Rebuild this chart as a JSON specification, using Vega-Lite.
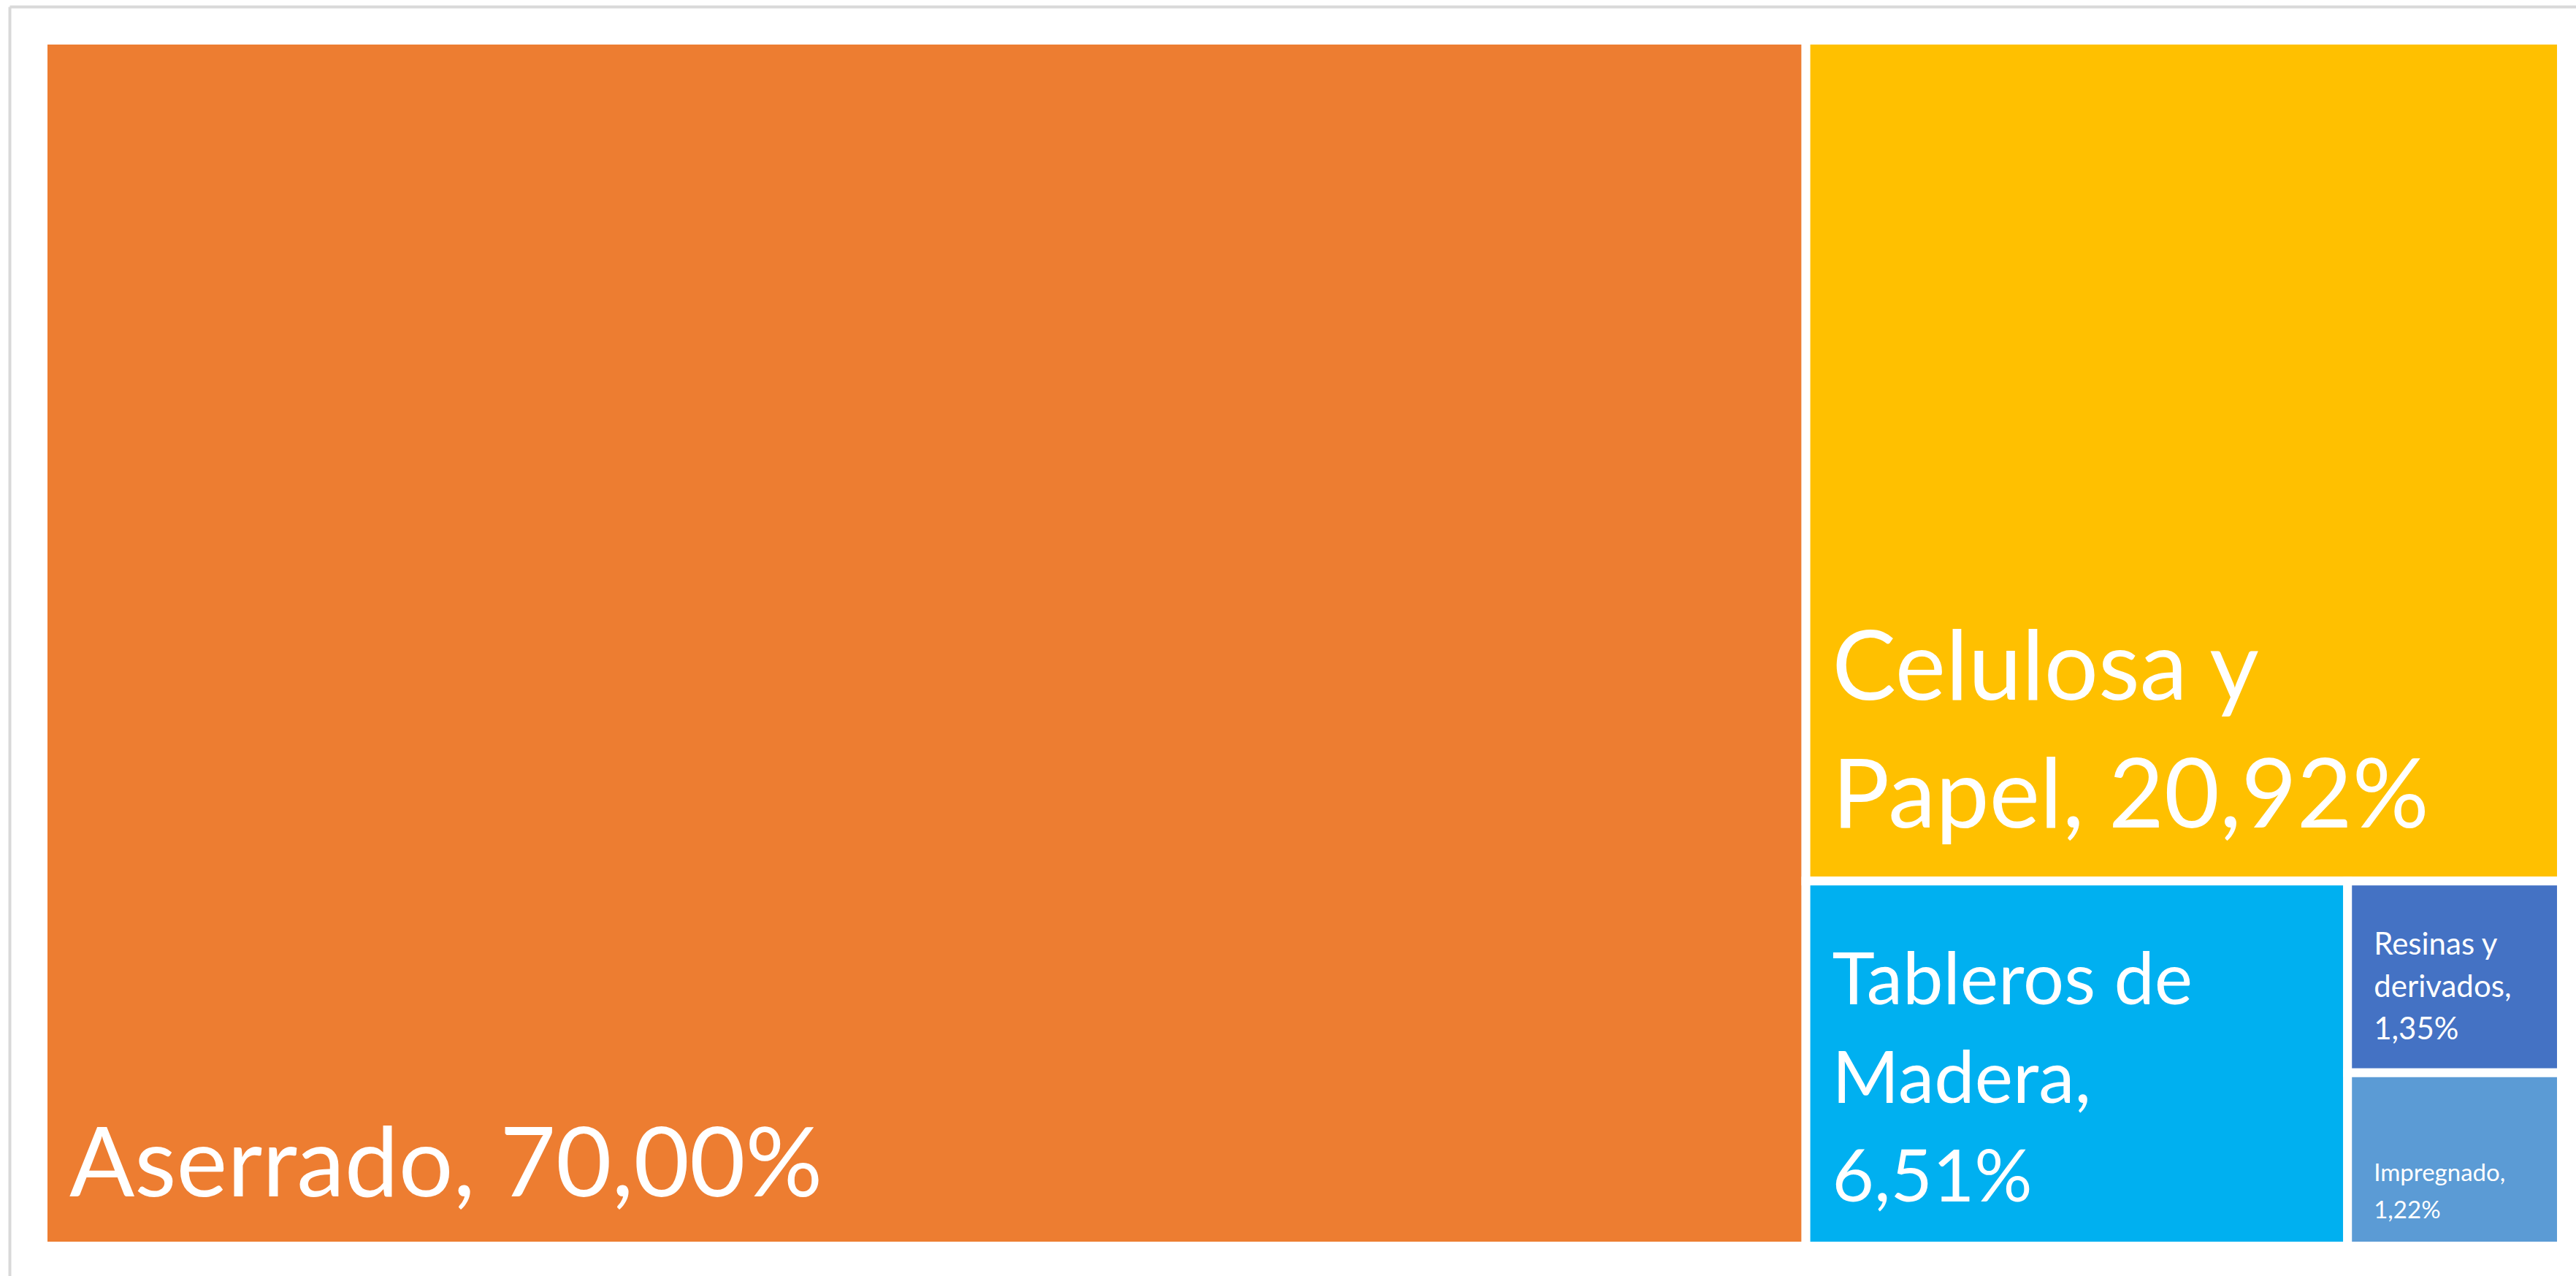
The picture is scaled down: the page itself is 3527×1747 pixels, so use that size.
{
  "$schema": "https://vega.github.io/schema/vega-lite/v6.json",
  "width": 3514,
  "height": 1738,
  "autosize": {"type": "none"},
  "padding": {"left": 13, "top": 9, "right": 0, "bottom": 0},
  "background": "white",
  "config": {"view": {"stroke": null}},
  "data": {
    "values": [
      {"name": "Aserrado", "value": 70.00, "label": "Aserrado, 70,00%"},
      {"name": "Celulosa y Papel", "value": 20.92, "label": "Celulosa y\nPapel, 20,92%"},
      {"name": "Tableros de Madera", "value": 6.51, "label": "Tableros de\nMadera,\n6,51%"},
      {"name": "Resinas y derivados", "value": 1.35, "label": "Resinas y\nderivados,\n1,35%"},
      {"name": "Impregnado", "value": 1.22, "label": "Impregnado,\n1,22%"}
    ]
  },
  "transform": [
    {"joinaggregate": [{"op": "sum", "field": "value", "as": "total"}]},
    {
      "window": [
        {"op": "row_number", "as": "rank"},
        {"op": "nth_value", "field": "value", "param": 1, "as": "v1"},
        {"op": "nth_value", "field": "value", "param": 2, "as": "v2"},
        {"op": "nth_value", "field": "value", "param": 3, "as": "v3"},
        {"op": "nth_value", "field": "value", "param": 4, "as": "v4"}
      ],
      "sort": [{"field": "value", "order": "descending"}],
      "frame": [null, null]
    },
    {"calculate": "datum.v1 / datum.total", "as": "X1"},
    {"calculate": "datum.v2 / (datum.total - datum.v1)", "as": "Y2"},
    {"calculate": "datum.X1 + (1 - datum.X1) * datum.v3 / (datum.total - datum.v1 - datum.v2)", "as": "X3"},
    {"calculate": "datum.Y2 + (1 - datum.Y2) * datum.v4 / (datum.total - datum.v1 - datum.v2 - datum.v3)", "as": "Y4"},
    {"calculate": "datum.rank == 1 ? 0 : (datum.rank <= 3 ? datum.X1 : datum.X3)", "as": "x0"},
    {"calculate": "datum.rank == 1 ? datum.X1 : (datum.rank == 3 ? datum.X3 : 1)", "as": "x1"},
    {"calculate": "datum.rank <= 2 ? 0 : (datum.rank == 5 ? datum.Y4 : datum.Y2)", "as": "y0"},
    {"calculate": "datum.rank == 2 ? datum.Y2 : (datum.rank == 4 ? datum.Y4 : 1)", "as": "y1"}
  ],
  "layer": [
    {
      "mark": {"type": "rect", "stroke": "white", "strokeWidth": 12},
      "encoding": {
        "x": {"field": "x0", "type": "quantitative", "scale": {"domain": [-0.013341, 1.0058], "zero": false, "nice": false},
              "axis": {"orient": "top", "domain": true, "domainColor": "#d9d9d9", "domainWidth": 4, "ticks": false, "labels": false, "grid": false, "title": null}},
        "x2": {"field": "x1"},
        "y": {"field": "y0", "type": "quantitative", "scale": {"domain": [-0.027862, 1.024833], "reverse": true, "zero": false, "nice": false},
              "axis": {"orient": "left", "domain": true, "domainColor": "#d9d9d9", "domainWidth": 4, "ticks": false, "labels": false, "grid": false, "title": null}},
        "y2": {"field": "y1"},
        "color": {"field": "name", "type": "nominal", "legend": null,
                  "scale": {"domain": ["Aserrado", "Celulosa y Papel", "Tableros de Madera", "Resinas y derivados", "Impregnado"],
                            "range": ["#ED7D31", "#FFC000", "#00B0F0", "#4472C4", "#5B9BD5"]}}
      }
    },
    {
      "transform": [{"filter": "datum.name == 'Aserrado'"}],
      "mark": {"type": "text", "font": "Lato", "fontSize": 132, "lineHeight": 175, "fill": "white", "align": "left", "baseline": "alphabetic", "lineBreak": "\n", "dx": 36, "dy": -68},
      "encoding": {
        "x": {"field": "x0", "type": "quantitative"},
        "y": {"field": "y1", "type": "quantitative"},
        "text": {"field": "label"}
      }
    },
    {
      "transform": [{"filter": "datum.name == 'Celulosa y Papel'"}],
      "mark": {"type": "text", "font": "Lato", "fontSize": 131, "lineHeight": 175, "fill": "white", "align": "left", "baseline": "alphabetic", "lineBreak": "\n", "dx": 36, "dy": -248},
      "encoding": {
        "x": {"field": "x0", "type": "quantitative"},
        "y": {"field": "y1", "type": "quantitative"},
        "text": {"field": "label"}
      }
    },
    {
      "transform": [{"filter": "datum.name == 'Tableros de Madera'"}],
      "mark": {"type": "text", "font": "Lato", "fontSize": 99, "lineHeight": 135, "fill": "white", "align": "left", "baseline": "alphabetic", "lineBreak": "\n", "dx": 36, "dy": -331},
      "encoding": {
        "x": {"field": "x0", "type": "quantitative"},
        "y": {"field": "y1", "type": "quantitative"},
        "text": {"field": "label"}
      }
    },
    {
      "transform": [{"filter": "datum.name == 'Resinas y derivados'"}],
      "mark": {"type": "text", "font": "Lato", "fontSize": 42, "lineHeight": 58, "fill": "white", "align": "left", "baseline": "alphabetic", "lineBreak": "\n", "dx": 36, "dy": -162},
      "encoding": {
        "x": {"field": "x0", "type": "quantitative"},
        "y": {"field": "y1", "type": "quantitative"},
        "text": {"field": "label"}
      }
    },
    {
      "transform": [{"filter": "datum.name == 'Impregnado'"}],
      "mark": {"type": "text", "font": "Lato", "fontSize": 33, "lineHeight": 51, "fill": "white", "align": "left", "baseline": "alphabetic", "lineBreak": "\n", "dx": 36, "dy": -89},
      "encoding": {
        "x": {"field": "x0", "type": "quantitative"},
        "y": {"field": "y1", "type": "quantitative"},
        "text": {"field": "label"}
      }
    }
  ]
}
